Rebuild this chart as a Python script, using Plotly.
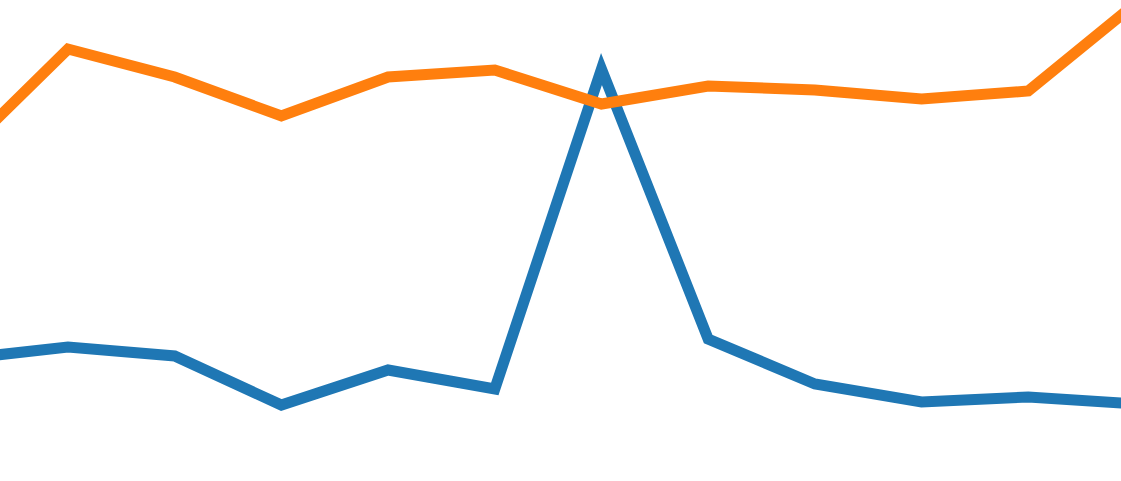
import plotly.graph_objects as go

x_idx = list(range(12))
# values (arbitrary units, higher = up)
blue_vals = [122, 134, 125, 76, 111, 92, 412, 142, 97, 79, 84, 77]
orange_vals = [327, 432, 404, 365, 404, 411, 377, 395, 391, 382, 390, 477]

fig = go.Figure()
fig.add_trace(go.Scatter(x=x_idx, y=blue_vals, mode="lines",
                         line=dict(color="#1f77b4", width=11), showlegend=False))
fig.add_trace(go.Scatter(x=x_idx, y=orange_vals, mode="lines",
                         line=dict(color="#ff7f0e", width=11), showlegend=False))

fig.update_layout(
    width=1121, height=481,
    margin=dict(l=0, r=0, t=0, b=0),
    paper_bgcolor="white", plot_bgcolor="white",
    xaxis=dict(visible=False, range=[0.363, 10.869]),
    yaxis=dict(visible=False, range=[0, 481]),
)
post = """
document.querySelectorAll('.js-line').forEach(function(p){
  p.style.strokeLinejoin = 'miter';
  p.style.strokeMiterlimit = '10';
});
"""
fig.write_html("out.html", post_script=post)
